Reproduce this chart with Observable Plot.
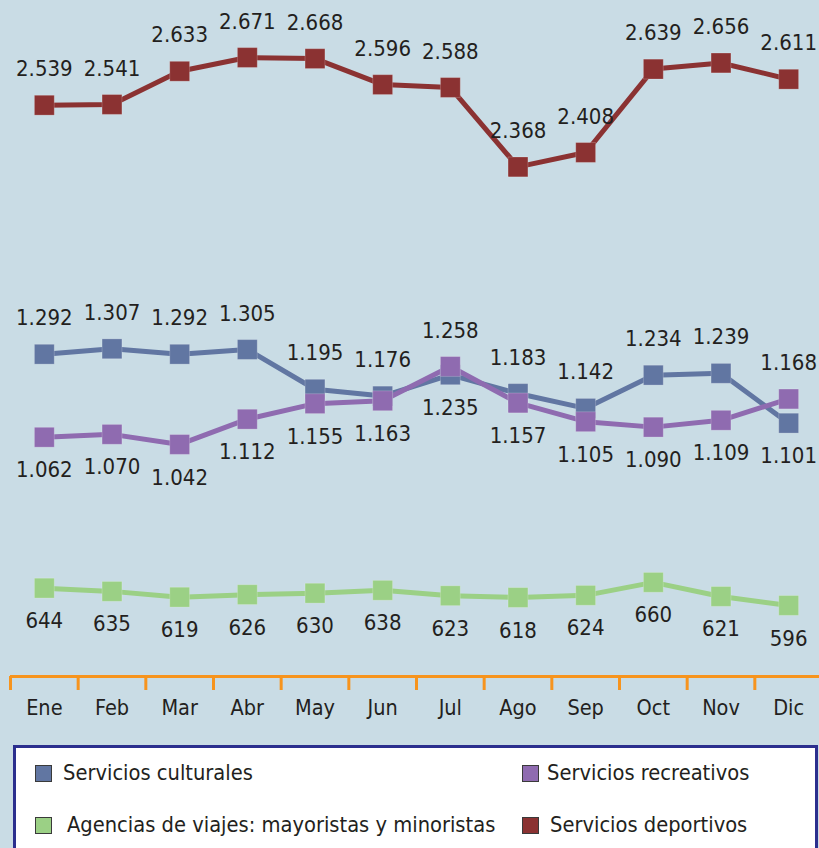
<!DOCTYPE html>
<html>
<head>
<meta charset="utf-8">
<script src="https://cdn.jsdelivr.net/npm/d3@7"></script>
<script src="https://cdn.jsdelivr.net/npm/@observablehq/plot@0.6"></script>
<style>
html, body { margin: 0; padding: 0; background: #c9dce5; width: 819px; height: 848px; overflow: hidden; }
#wrap { position: relative; width: 819px; height: 848px; }
#top, #bottom { position: absolute; left: 0; }
#top { top: 0; }
#bottom { top: 210px; }
svg { overflow: visible; }
svg text { font-stretch: condensed; }
#legend { position: absolute; left: 13px; top: 745px; width: 805px; height: 130px; border: 3px solid #2b2f8e; background: #fff; box-sizing: border-box; }
.sw { position: absolute; width: 15px; height: 15px; border: 1px solid #3a3a3a; }
.txt { position: absolute; font-family: "DejaVu Sans Condensed", "DejaVu Sans", sans-serif; font-stretch: condensed; font-size: 21.7px; line-height: 24px; color: #231f20; white-space: nowrap; }
</style>
</head>
<body>
<div id="wrap">
  <div id="top"></div>
  <div id="bottom"></div>
  <div id="legend"></div>
</div>
<script>
// ---- data ----
const months = ["Ene","Feb","Mar","Abr","May","Jun","Jul","Ago","Sep","Oct","Nov","Dic"];
const culturales  = [1292,1307,1292,1305,1195,1176,1235,1183,1142,1234,1239,1101];
const recreativos = [1062,1070,1042,1112,1155,1163,1258,1157,1105,1090,1109,1168];
const agencias    = [644,635,619,626,630,638,623,618,624,660,621,596];
const deportivos  = [2539,2541,2633,2671,2668,2596,2588,2368,2408,2639,2656,2611];
const seriesNames = ["Servicios culturales","Servicios recreativos","Agencias de viajes: mayoristas y minoristas","Servicios deportivos"];
const seriesColors = ["#6176a2","#8f6bb0","#9bd085","#8b3232"];

// ---- table ----
const fmt = v => d3.format(",")(v).replace(/,/g, ".");
function rows(values, name, posFn) {
  return values.map((v, i) => ({month: i, value: v, series: name, above: posFn(v, i), label: fmt(v)}));
}
const bottomData = [
  ...rows(culturales, seriesNames[0], (v, i) => v >= recreativos[i]),
  ...rows(recreativos, seriesNames[1], (v, i) => v > culturales[i]),
  ...rows(agencias, seriesNames[2], () => false)
];
const topData = rows(deportivos, seriesNames[3], () => true);

const colorScale = {domain: seriesNames, range: seriesColors};
const FONT = "'DejaVu Sans Condensed', 'DejaVu Sans', sans-serif";
const xScale = {type: "linear", domain: [-0.5, 11.5], range: [10, 822], axis: null};

function seriesMarks(data) {
  return [
    Plot.line(data, {x: "month", y: "value", z: "series", stroke: "series", strokeWidth: 5, curve: "linear"}),
    Plot.dot(data, {x: "month", y: "value", fill: "series", symbol: "square", r: 11.2, stroke: "#ffffff", strokeOpacity: 0.25, strokeWidth: 0.8}),
    Plot.text(data.filter(d => d.above), {x: "month", y: "value", text: "label", dy: -36, fontSize: 22, fill: "#231f20", fontFamily: FONT}),
    Plot.text(data.filter(d => !d.above), {x: "month", y: "value", text: "label", dy: 33, fontSize: 22, fill: "#231f20", fontFamily: FONT})
  ];
}

const topPlot = Plot.plot({
  width: 819, height: 210,
  marginTop: 0, marginBottom: 0, marginLeft: 10, marginRight: 0,
  style: {background: "transparent", fontFamily: FONT, overflow: "visible"},
  x: xScale,
  y: {domain: [2247.3, 2829], axis: null},
  color: colorScale,
  marks: seriesMarks(topData)
});
document.getElementById("top").appendChild(topPlot);

const yMinBottom = 399.2;
const boundaries = d3.range(12).map(i => i - 0.5);
const bottomPlot = Plot.plot({
  width: 819, height: 530,
  marginTop: 0, marginBottom: 64, marginLeft: 10, marginRight: 0,
  style: {background: "transparent", fontFamily: FONT, overflow: "visible"},
  x: xScale,
  y: {domain: [yMinBottom, 1690.1], axis: null},
  color: colorScale,
  marks: [
    Plot.ruleY([yMinBottom], {stroke: "#f7941d", strokeWidth: 3}),
    Plot.axisX({ticks: boundaries, tickSize: 14, tickFormat: () => "", stroke: "#f7941d", strokeWidth: 3, strokeOpacity: 1, label: null}),
    Plot.axisX({ticks: d3.range(12), tickSize: 0, tickPadding: 23, tickFormat: i => months[i], fontSize: 21.5, fill: "#231f20", label: null}),
    ...seriesMarks(bottomData)
  ]
});
document.getElementById("bottom").appendChild(bottomPlot);

// ---- legend (HTML) ----
const legend = document.getElementById("legend");
const legendItems = [
  {i: 0, sx: 19, sy: 16.5, tx: 47, ty: 13},
  {i: 1, sx: 506, sy: 16.5, tx: 531, ty: 13},
  {i: 2, sx: 19, sy: 68.5, tx: 51, ty: 65},
  {i: 3, sx: 506, sy: 68.5, tx: 534, ty: 65}
];
for (const it of legendItems) {
  const sw = document.createElement("div");
  sw.className = "sw";
  sw.style.left = it.sx + "px";
  sw.style.top = it.sy + "px";
  sw.style.background = seriesColors[it.i];
  legend.appendChild(sw);
  const t = document.createElement("div");
  t.className = "txt";
  t.style.left = it.tx + "px";
  t.style.top = it.ty + "px";
  t.textContent = seriesNames[it.i];
  legend.appendChild(t);
}
</script>
</body>
</html>
